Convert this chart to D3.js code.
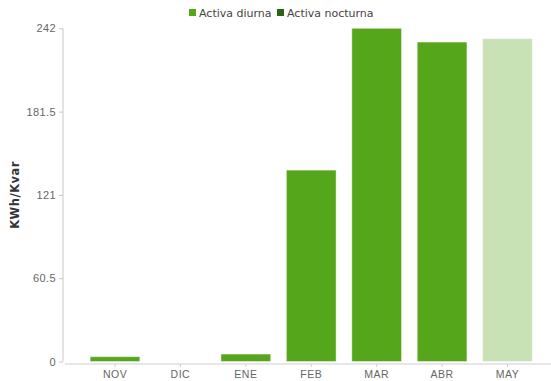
<!DOCTYPE html>
<html><head><meta charset="utf-8">
<script src="https://cdn.jsdelivr.net/npm/d3@7"></script>
<style>body{margin:0;background:#fff;}svg{display:block;font-family:"DejaVu Sans",Verdana,sans-serif;}</style>
</head><body><div id="chart"></div>
<script>
const months = ["NOV","DIC","ENE","FEB","MAR","ABR","MAY"];
const diurna = [3.5, 0, 5.4, 139, 242, 232, 234.5];
const nocturna = [0, 0, 0, 0, 0, 0, 0];
const highlighted = ["MAY"];
const yTicks = [0, 60.5, 121, 181.5, 242];
const seriesNames = ["Activa diurna", "Activa nocturna"];
const seriesColors = ["#55a61b", "#2e6312"];
const highlightColor = "#c9e2b5";

const W = 551, H = 381;
const svg = d3.select("#chart").append("svg").attr("width", W).attr("height", H);

const x = d3.scaleBand().domain(months).range([82.3, 540.2]).paddingInner(0.24).paddingOuter(0.12);
const y = d3.scaleLinear().domain([0, 242]).range([361.5, 28.3]);

// y axis
const yAx = svg.append("g").attr("transform", "translate(63,0)")
  .call(d3.axisLeft(y).tickValues(yTicks).tickSize(4).tickPadding(3).tickFormat(d => String(d)));
yAx.select(".domain").attr("stroke", "#c8c8c8").attr("d", `M0,${y(242)}V${y(0)}`);
yAx.selectAll(".tick line").attr("stroke", "#c8c8c8");
yAx.selectAll(".tick text").attr("fill", "#666").style("font-size", "11px").style("letter-spacing", "0.4px");

// x axis
const xAx = svg.append("g").attr("transform", "translate(0,364)")
  .call(d3.axisBottom(x).tickSize(3).tickPadding(4));
xAx.select(".domain").attr("stroke", "#cfcfcf").attr("d", "M65,0H551");
xAx.selectAll(".tick line").attr("stroke", "#cfcfcf");
xAx.selectAll(".tick text").attr("fill", "#666").style("font-size", "10.5px").style("letter-spacing", "0.5px")
  .attr("dy", "0.62em");

// y title
svg.append("text").attr("transform", `translate(19,${(y(0)+y(242))/2}) rotate(-90)`)
  .attr("text-anchor", "middle").attr("fill", "#333").style("font-size", "11.5px").style("font-weight", "bold")
  .style("letter-spacing", "0.5px")
  .text("KWh/Kvar");

// bars (stacked)
const data = months.map((m, i) => ({m, d: diurna[i], n: nocturna[i]}));
svg.append("g").selectAll("rect.d").data(data.filter(o => o.d > 0)).join("rect")
  .attr("x", o => x(o.m)).attr("width", x.bandwidth())
  .attr("y", o => y(o.d)).attr("height", o => y(0) - y(o.d))
  .attr("fill", o => highlighted.includes(o.m) ? highlightColor : seriesColors[0])
  .attr("stroke", "rgba(255,255,255,0.45)").attr("stroke-width", 1);
svg.append("g").selectAll("rect.n").data(data.filter(o => o.n > 0)).join("rect")
  .attr("x", o => x(o.m)).attr("width", x.bandwidth())
  .attr("y", o => y(o.d + o.n)).attr("height", o => y(o.d) - y(o.d + o.n))
  .attr("fill", seriesColors[1]);

// legend
const lg = svg.append("g");
const legendX = [189, 277];
seriesNames.forEach((s, i) => {
  lg.append("rect").attr("x", legendX[i]).attr("y", 9).attr("width", 7).attr("height", 7).attr("fill", seriesColors[i]);
  lg.append("text").attr("x", legendX[i] + 10).attr("y", 16.5).attr("fill", "#444").style("font-size", "11px").text(s);
});
</script></body></html>
